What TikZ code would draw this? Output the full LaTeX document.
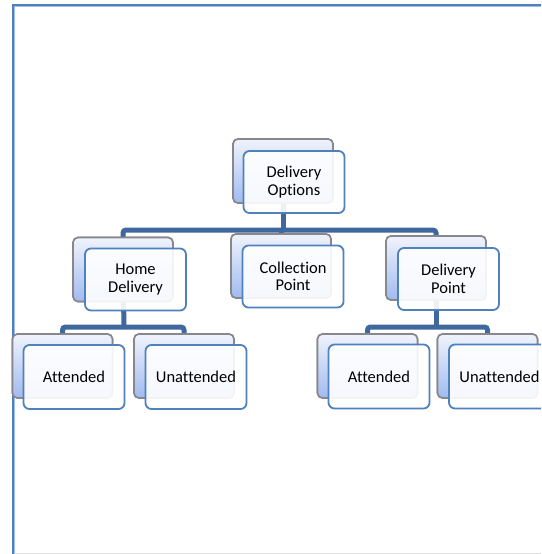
\documentclass[tikz,border=0pt]{standalone}
\usepackage{fontspec}
\setmainfont{Carlito}[Ligatures={NoCommon}]
\usetikzlibrary{calc}
\definecolor{frameblue}{RGB}{79,129,189}
\definecolor{framelight}{RGB}{160,190,230}
\definecolor{connblue}{RGB}{62,104,158}
\definecolor{backtop}{RGB}{240,243,252}
\definecolor{backbot}{RGB}{160,186,240}
\definecolor{backedge}{RGB}{135,135,140}
\tikzset{
  backbox/.style={draw=backedge, line width=1.6pt, rounded corners=5pt,
    top color=backtop, bottom color=backbot,
    minimum width=100pt, minimum height=64pt, inner sep=0pt},
  frontbox/.style={draw=frameblue, line width=1.8pt, rounded corners=6pt,
    fill=white, fill opacity=0.9, text opacity=1,
    minimum width=101pt, minimum height=62pt, inner sep=0pt,
    align=center, font=\fontsize{16.5}{17.5}\selectfont},
  conn/.style={draw=connblue, line width=5pt, rounded corners=3pt}
}
\begin{document}
\begin{tikzpicture}[x=1pt,y=-1pt]
\useasboundingbox (0,0) rectangle (541,554);
\fill[white] (0,0) rectangle (541,554);
\clip (0,0) rectangle (541,554);

% page frame
\draw[line width=2.6pt, frameblue] (13,560) -- (13,5) -- (560,5);
\draw[line width=0.8pt, framelight] (14.6,560) -- (14.6,6.6) -- (560,6.6);
\draw[line width=1pt, black!12] (15,553) -- (560,553);

% back plates
\node[backbox] (doB) at (283,171) {};
\node[backbox] (hdB) at (123,269.5) {};
\node[backbox] (cpB) at (281,266) {};
\node[backbox] (dpB) at (436,268) {};
\node[backbox] (a1B) at (62.5,366) {};
\node[backbox] (u1B) at (184,366) {};
\node[backbox] (a2B) at (367.5,366) {};
\node[backbox] (u2B) at (487.5,366) {};

% junctions of the connector bars
\coordinate (j1) at (283,230);
\coordinate (j2) at (124,327);
\coordinate (j3) at (436,327);

% connectors
\draw[conn] (hdB.center) |- (j1) -| (dpB.center);
\draw[conn] (doB.center) -- (j1);
\draw[conn] (cpB.center) -- (cpB.center |- j1);
\draw[conn] (a1B.center) |- (j2) -| (u1B.center);
\draw[conn] (hdB.center) -- (j2);
\draw[conn] (a2B.center) |- (j3) -| (u2B.center);
\draw[conn] (dpB.center) -- (j3);

% redraw plates over connector ends
\node[backbox] at (doB) {};
\node[backbox] at (hdB) {};
\node[backbox] at (cpB) {};
\node[backbox] at (dpB) {};
\node[backbox] at (a1B) {};
\node[backbox] at (u1B) {};
\node[backbox] at (a2B) {};
\node[backbox] at (u2B) {};

% front cards
\node[frontbox] (do) at (294,182) {Delivery\\Options};
\node[frontbox] (hd) at (135.5,279.5) {Home\\Delivery};
\node[frontbox] (cp) at (293,276.5) {Collection\\Point};
\node[frontbox] (dp) at (448.5,279) {Delivery\\Point};
\node[frontbox, minimum height=64pt] (a1) at (74,377) {Attended};
\node[frontbox, minimum height=64pt] (u1) at (196,377) {Unattended};
\node[frontbox, minimum height=64pt] (a2) at (379,376.5) {Attended};
\node[frontbox, minimum height=64pt] (u2) at (499.5,376.5) {Unattended};
\end{tikzpicture}
\end{document}
